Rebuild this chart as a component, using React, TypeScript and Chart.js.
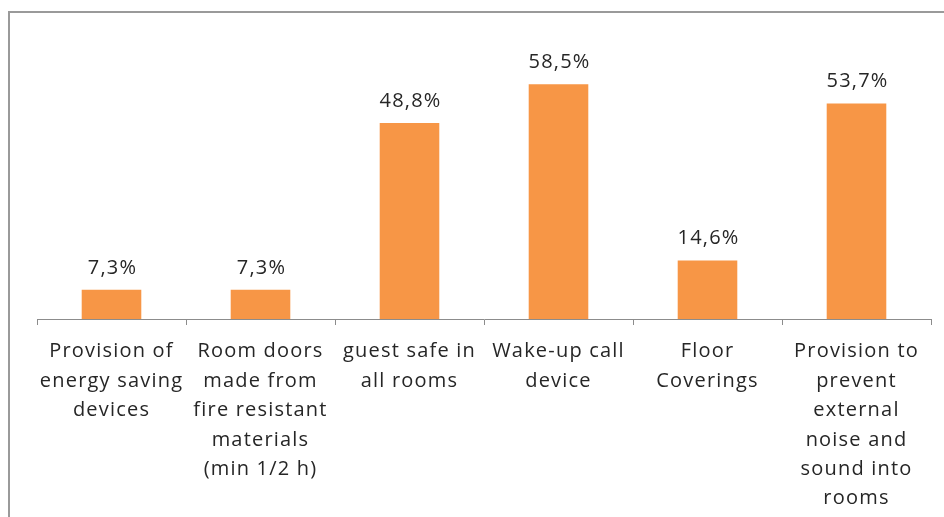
import React, { useEffect, useRef } from "react";
import { Chart, registerables } from "chart.js";

Chart.register(...registerables);

const categories: string[][] = [
  ["Provision of", "energy saving", "devices"],
  ["Room doors", "made from", "fire resistant", "materials", "(min 1/2 h)"],
  ["guest safe in", "all rooms"],
  ["Wake-up call", "device"],
  ["Floor", "Coverings"],
  ["Provision to", "prevent", "external", "noise and", "sound into", "rooms"],
];
const values: number[] = [7.3, 7.3, 48.8, 58.5, 14.6, 53.7];
const valueLabels: string[] = ["7,3%", "7,3%", "48,8%", "58,5%", "14,6%", "53,7%"];

const FONT = "'Open Sans', Lato, sans-serif";

const framePlugin = {
  id: "frame",
  beforeDraw(chart: any) {
    const ctx = chart.ctx;
    ctx.save();
    ctx.fillStyle = "#ffffff";
    ctx.fillRect(0, 0, chart.width, chart.height);
    ctx.fillStyle = "#9a9a9a";
    ctx.fillRect(8, 11, 2, chart.height);
    ctx.fillRect(8, 11, chart.width, 2);
    ctx.restore();
    (ctx as any).letterSpacing = "1.2px";
  },
};

const labelPlugin = {
  id: "valueLabels",
  afterDatasetsDraw(chart: any) {
    const ctx = chart.ctx;
    const meta = chart.getDatasetMeta(0);
    ctx.save();
    (ctx as any).letterSpacing = "1.2px";
    ctx.font = `20px ${FONT}`;
    ctx.fillStyle = "#262626";
    ctx.textAlign = "center";
    ctx.textBaseline = "alphabetic";
    meta.data.forEach((bar: any, i: number) => {
      ctx.fillText(valueLabels[i], bar.x + 1, bar.y - 16);
    });
    ctx.restore();
  },
};

export default function App() {
  const ref = useRef<HTMLCanvasElement | null>(null);
  useEffect(() => {
    document.body.style.margin = "0";
    document.body.style.overflow = "hidden";
    const chart = new Chart(ref.current!, {
      type: "bar",
      data: {
        labels: categories,
        datasets: [
          {
            data: values,
            backgroundColor: "#F79646",
            barPercentage: 0.4,
            categoryPercentage: 1,
          },
        ],
      },
      options: {
        animation: false,
        responsive: false,
        layout: { padding: { top: 38, left: 37, right: 13, bottom: 0 } },
        plugins: { legend: { display: false }, tooltip: { enabled: false } },
        scales: {
          x: {
            afterFit(scale: any) {
              scale.height = 198;
            },
            border: { display: true, color: "#8c8c8c", width: 1 },
            grid: {
              display: true,
              offset: true,
              drawOnChartArea: false,
              drawTicks: true,
              tickLength: 6,
              color: "#8c8c8c",
            },
            ticks: {
              maxRotation: 0,
              autoSkip: false,
              padding: 12,
              color: "#262626",
              font: { family: FONT, size: 20, lineHeight: 1.47 },
            },
          },
          y: {
            display: false,
            min: 0,
            max: 70,
          },
        },
      },
      plugins: [framePlugin, labelPlugin],
    });
    return () => chart.destroy();
  }, []);
  return (
    <div style={{ position: "absolute", left: 0, top: 0, width: 944, height: 517 }}>
      <canvas ref={ref} width={944} height={517} style={{ width: 944, height: 517 }} />
    </div>
  );
}
